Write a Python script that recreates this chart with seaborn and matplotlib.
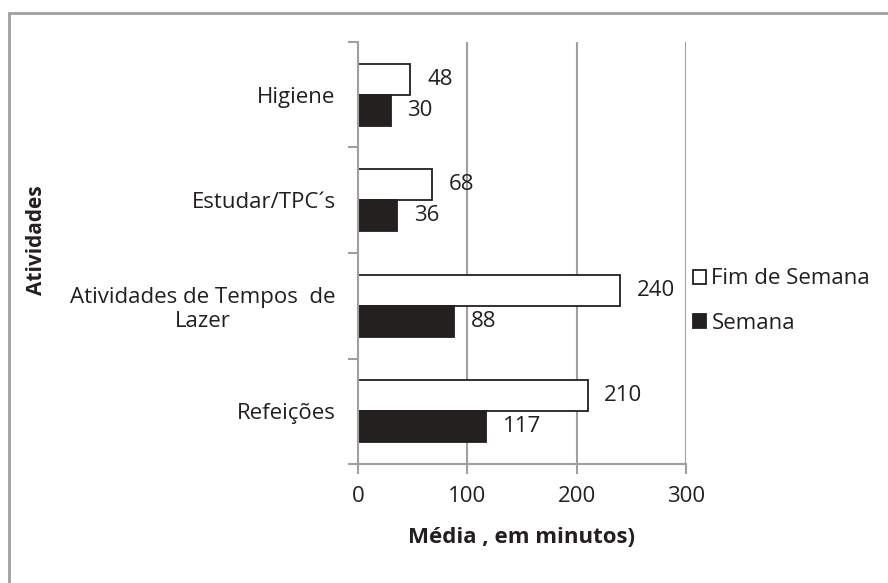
import matplotlib
matplotlib.use("Agg")
import matplotlib.pyplot as plt
import seaborn as sns
import pandas as pd
from matplotlib.patches import Rectangle

categorias = ["Higiene", "Estudar/TPC´s", "Atividades de Tempos  de\nLazer", "Refeições"]
fim_de_semana = [48, 68, 240, 210]
semana = [30, 36, 88, 117]
series = ["Fim de Semana", "Semana"]
x_ticks = [0, 100, 200, 300]

df = pd.DataFrame({
    "Atividade": categorias * 2,
    "Minutos": fim_de_semana + semana,
    "Periodo": [series[0]] * len(categorias) + [series[1]] * len(categorias),
})

sns.set_theme(style="white")
plt.rcParams["font.family"] = ["Open Sans", "DejaVu Sans"]

FS = 16
TXT = "#231f20"
grid_c = "#a0a0a0"

fig = plt.figure(figsize=(8.88, 5.83), dpi=100)
ax = fig.add_axes([0.403, 0.204, 0.3695, 0.724])

ax.set_axisbelow(True)
for xv in x_ticks[1:]:
    ax.axvline(xv, color=grid_c, lw=1.5, zorder=0)

sns.barplot(data=df, y="Atividade", x="Minutos", hue="Periodo",
            order=categorias, hue_order=series,
            palette=["white", TXT], edgecolor=TXT,
            linewidth=1.3, width=0.59, orient="h", ax=ax, zorder=2)

for cont in ax.containers:
    ax.bar_label(cont, padding=12, fontsize=FS, color=TXT)

ax.set_xlim(0, 300)
ax.set_ylim(len(categorias) - 0.5, -0.5)
ax.set_xticks(x_ticks)
ax.set_xticklabels([str(v) for v in x_ticks], fontsize=FS, color=TXT)
ax.tick_params(axis="x", bottom=True, direction="out", length=7, width=1.5,
               color=grid_c, pad=9)

ax.set_yticks(range(len(categorias)))
ax.set_yticklabels(categorias, fontsize=FS, color=TXT, multialignment="center")
ax.tick_params(axis="y", which="major", left=True, length=0, pad=16)
ax.set_yticks([i - 0.5 for i in range(len(categorias) + 1)], minor=True)
ax.tick_params(axis="y", which="minor", left=True, direction="out", length=7,
               width=1.5, color=grid_c)

for s in ["top", "right"]:
    ax.spines[s].set_visible(False)
for s in ["left", "bottom"]:
    ax.spines[s].set_color(grid_c)
    ax.spines[s].set_linewidth(1.5)

ax.set_xlabel("Média , em minutos)", fontsize=FS, fontweight="bold", color=TXT, labelpad=14)
ax.set_ylabel("")
fig.text(0.041, 0.588, "Atividades", rotation=90, fontsize=15, fontweight="bold",
         color=TXT, ha="center", va="center")

leg = ax.legend(loc="center left", bbox_to_anchor=(0.993, 0.386), frameon=False,
                fontsize=FS, handlelength=0.6, handleheight=0.6, handletextpad=0.25,
                labelspacing=1.05, borderaxespad=0)
for t in leg.get_texts():
    t.set_color(TXT)

fig.patches.append(Rectangle((9 / 888, -0.1), 1.2, 1.1 - 13 / 583, transform=fig.transFigure,
                             fill=False, edgecolor=grid_c, lw=2.0))

fig.savefig("out.png", dpi=100)
